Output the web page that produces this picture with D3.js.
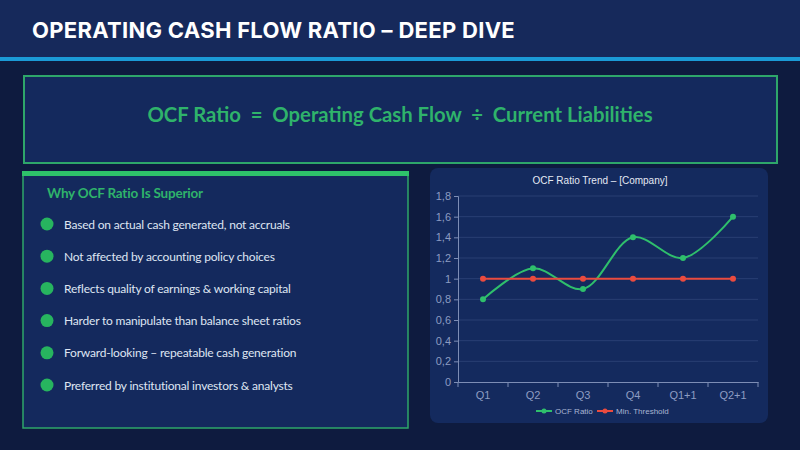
<!DOCTYPE html>
<html>
<head>
<meta charset="utf-8">
<script src="https://cdn.jsdelivr.net/npm/d3@7/dist/d3.min.js"></script>
<style>
  html, body { margin: 0; padding: 0; background: #0e1b3f; }
  svg { display: block; }
</style>
</head>
<body>
<svg id="c" width="800" height="450"></svg>
<script>
const pageTitle = "OPERATING CASH FLOW RATIO – DEEP DIVE";
const formulaText = "OCF Ratio  =  Operating Cash Flow  ÷  Current Liabilities";
const panelHeading = "Why OCF Ratio Is Superior";
const bulletItems = [
  "Based on actual cash generated, not accruals",
  "Not affected by accounting policy choices",
  "Reflects quality of earnings & working capital",
  "Harder to manipulate than balance sheet ratios",
  "Forward-looking – repeatable cash generation",
  "Preferred by institutional investors & analysts"
];
const chartTitle = "OCF Ratio Trend – [Company]";
const categories = ["Q1", "Q2", "Q3", "Q4", "Q1+1", "Q2+1"];
const ocfRatio = [0.8, 1.1, 0.9, 1.4, 1.2, 1.6];
const minThreshold = [1, 1, 1, 1, 1, 1];
const yTicks = [0, 0.2, 0.4, 0.6, 0.8, 1, 1.2, 1.4, 1.6, 1.8];
const seriesNames = ["OCF Ratio", "Min. Threshold"];

const svg = d3.select("#c");
const green = "#2fb36b";

// header
svg.append("rect").attr("x",0).attr("y",0).attr("width",800).attr("height",57).attr("fill","#16295b");
svg.append("rect").attr("x",0).attr("y",57).attr("width",800).attr("height",4).attr("fill","#1b9ad6");
svg.append("text").attr("x",32).attr("y",38).text(pageTitle)
  .attr("font-family","Inter").attr("font-weight",700).attr("font-size",22)
  .attr("fill","#ffffff").attr("letter-spacing","0.3");

// formula box
svg.append("rect").attr("x",24).attr("y",76).attr("width",753).attr("height",87)
  .attr("fill","#14295d").attr("stroke","#2ea66a").attr("stroke-width",2);
svg.append("text").attr("x",400).attr("y",122).attr("text-anchor","middle")
  .attr("xml:space","preserve").text(formulaText)
  .attr("font-family","Lato").attr("font-weight",700).attr("font-size",20.3).attr("fill",green);

// left panel
svg.append("rect").attr("x",23).attr("y",174).attr("width",385).attr("height",254)
  .attr("fill","#14295d").attr("stroke","#2ea66a").attr("stroke-width",1.5);
svg.append("rect").attr("x",22).attr("y",171).attr("width",387).attr("height",5).attr("fill","#2ec26a");
svg.append("text").attr("x",47).attr("y",198).text(panelHeading)
  .attr("font-family","Lato").attr("font-weight",700).attr("font-size",13.5)
  .attr("letter-spacing","-0.2").attr("fill",green);
const bl = svg.append("g");
bulletItems.forEach((t,i) => {
  const cy = 224 + i*32.2;
  bl.append("circle").attr("cx",47).attr("cy",cy).attr("r",6.5).attr("fill","#27b45f");
  bl.append("text").attr("x",64).attr("y",cy+4.5).text(t)
    .attr("font-family","Lato").attr("font-size",12).attr("letter-spacing","-0.2").attr("fill","#dfe5f2");
});

// chart box
svg.append("rect").attr("x",430).attr("y",168).attr("width",338).attr("height",255).attr("rx",8)
  .attr("fill","#142a5e");
svg.append("text").attr("x",600).attr("y",184).attr("text-anchor","middle").text(chartTitle)
  .attr("font-family","Liberation Sans, Arial").attr("font-size",10).attr("fill","#e4e9f3");

const x = d3.scaleBand().domain(categories).range([458, 758]);
const y = d3.scaleLinear().domain([0, 1.8]).range([382, 196]);
const fmt = d => String(d).replace(".", ",");
const axisCol = "#7d8db5";
const labCol = "#8d9cc2";

// gridlines
svg.append("g").selectAll("line").data(yTicks.slice(1)).join("line")
  .attr("x1",458).attr("x2",758).attr("y1",d=>y(d)).attr("y2",d=>y(d))
  .attr("stroke","#293f73").attr("stroke-width",1);

const yAxis = svg.append("g").attr("transform","translate(458,0)")
  .call(d3.axisLeft(y).tickValues(yTicks).tickFormat(fmt).tickSize(4).tickPadding(3));
yAxis.select(".domain").attr("stroke",axisCol);
yAxis.selectAll(".tick line").attr("stroke",axisCol);
yAxis.selectAll("text").attr("fill",labCol).attr("font-family","Liberation Sans, Arial").attr("font-size",11);

const xAxis = svg.append("g").attr("transform","translate(0,382)")
  .call(d3.axisBottom(x).tickSize(0).tickPadding(9));
xAxis.select(".domain").attr("stroke",axisCol);
xAxis.selectAll("text").attr("fill",labCol).attr("font-family","Liberation Sans, Arial").attr("font-size",11);
// category boundary ticks
svg.append("g").selectAll("line").data(categories.map((c,i)=>i).concat([categories.length])).join("line")
  .attr("x1",(d)=>458 + d*x.step()).attr("x2",(d)=>458 + d*x.step())
  .attr("y1",382).attr("y2",387).attr("stroke",axisCol);

const cx = c => x(c) + x.bandwidth()/2;
const series = [
  {name: seriesNames[0], values: ocfRatio, color: "#2fbf6c", curve: d3.curveCatmullRom.alpha(0.5)},
  {name: seriesNames[1], values: minThreshold, color: "#ea4b3f", curve: d3.curveLinear}
];
series.forEach(s => {
  const line = d3.line().x((d,i)=>cx(categories[i])).y(d=>y(d)).curve(s.curve);
  svg.append("path").datum(s.values).attr("d",line).attr("fill","none")
    .attr("stroke",s.color).attr("stroke-width",2);
  svg.append("g").selectAll("circle").data(s.values).join("circle")
    .attr("cx",(d,i)=>cx(categories[i])).attr("cy",d=>y(d)).attr("r",3).attr("fill",s.color);
});

// legend
const lg = [{x:536, s:series[0]},{x:597, s:series[1]}];
lg.forEach(l => {
  svg.append("line").attr("x1",l.x).attr("x2",l.x+16).attr("y1",411).attr("y2",411)
    .attr("stroke",l.s.color).attr("stroke-width",2);
  svg.append("circle").attr("cx",l.x+8).attr("cy",411).attr("r",2.5).attr("fill",l.s.color);
  svg.append("text").attr("x",l.x+19).attr("y",414).text(l.s.name)
    .attr("font-family","Liberation Sans, Arial").attr("font-size",8).attr("fill","#a9b5d2");
});
</script>
</body>
</html>
